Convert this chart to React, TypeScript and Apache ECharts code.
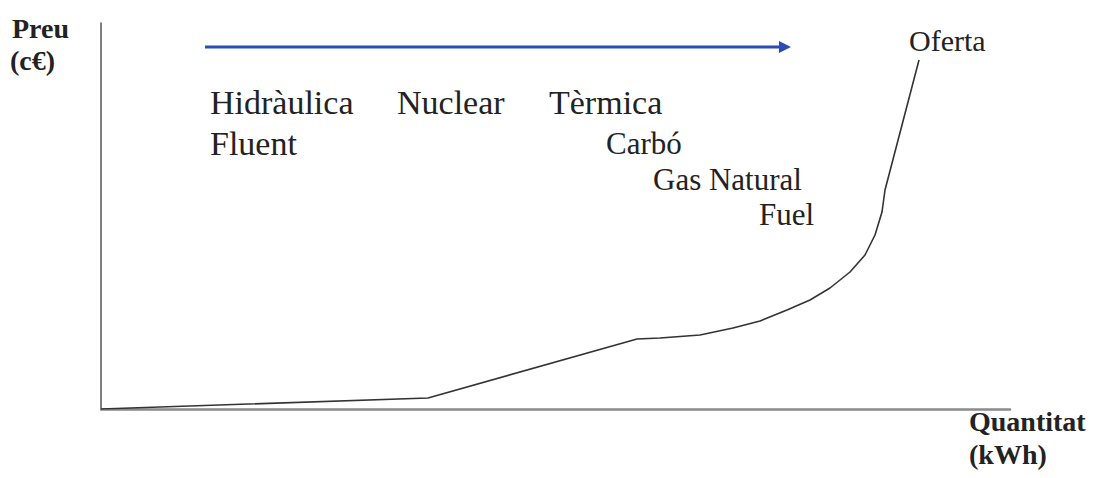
import React, { useEffect, useRef } from "react";
import * as echarts from "echarts";

// Supply curve ("Oferta"), x = quantity, y = price (arbitrary units)
const supplyX = [0, 327, 536, 559, 599, 632, 659, 686, 709, 729, 749, 764, 774, 781, 784, 818];
const supplyY = [0, 11, 70, 71, 74, 81, 88, 99, 109, 121, 137, 154, 174, 197, 219, 349];

const topLabels = ["Hidràulica", "Nuclear", "Tèrmica"];
const subLabels = ["Fluent", "Carbó", "Gas Natural", "Fuel"];
const curveLabel = "Oferta";
const yTitle = ["Preu", "(c€)"];
const xTitle = ["Quantitat", "(kWh)"];

const SERIF = "'Liberation Serif', 'Times New Roman', serif";
const INK = "#222";

function txt(text: string, x: number, baseline: number, size: number, bold = false) {
  return {
    type: "text",
    x,
    y: baseline - 0.28 * size,
    style: {
      text,
      fontFamily: SERIF,
      fontSize: size,
      fontWeight: bold ? "bold" : "normal",
      fill: INK,
      align: "left",
      verticalAlign: "middle",
    },
  };
}

export default function App() {
  const ref = useRef<HTMLDivElement>(null);
  useEffect(() => {
    if (!ref.current) return;
    const chart = echarts.init(ref.current, null, { renderer: "svg" });
    const data = supplyX.map((x, i) => [x, supplyY[i]]);
    chart.setOption({
      animation: false,
      backgroundColor: "#fff",
      grid: { left: 101, top: 23, width: 909, height: 386 },
      xAxis: {
        type: "value",
        min: 0,
        max: 909,
        axisLine: { show: true, lineStyle: { color: "#8a8a8a", width: 2.5 } },
        axisTick: { show: false },
        axisLabel: { show: false },
        splitLine: { show: false },
      },
      yAxis: {
        type: "value",
        min: 0,
        max: 386,
        axisLine: { show: true, lineStyle: { color: "#555", width: 1.5 } },
        axisTick: { show: false },
        axisLabel: { show: false },
        splitLine: { show: false },
      },
      series: [
        {
          type: "line",
          data,
          showSymbol: false,
          smooth: false,
          lineStyle: { color: "#333", width: 1.6 },
        },
      ],
      graphic: [
        {
          type: "line",
          shape: { x1: 205, y1: 47, x2: 782, y2: 47 },
          style: { stroke: "#2b4db3", lineWidth: 3 },
        },
        {
          type: "polygon",
          shape: { points: [[779, 41], [791, 47], [779, 53]] },
          style: { fill: "#2b4db3" },
        },
        txt(yTitle[0], 12, 36, 28, true),
        txt(yTitle[1], 10, 68, 28, true),
        txt(xTitle[0], 969, 429, 28, true),
        txt(xTitle[1], 969, 462, 28, true),
        txt(topLabels[0], 210, 112, 34),
        txt(topLabels[1], 397, 112, 34),
        txt(topLabels[2], 549, 112, 34),
        txt(subLabels[0], 210, 153, 34),
        txt(subLabels[1], 606, 152, 31),
        txt(subLabels[2], 653, 188, 31),
        txt(subLabels[3], 759, 223, 31),
        txt(curveLabel, 909, 49, 30),
      ],
    });
    return () => chart.dispose();
  }, []);
  return (
    <div
      ref={ref}
      style={{ position: "fixed", left: 0, top: 0, width: 1101, height: 478 }}
    />
  );
}
